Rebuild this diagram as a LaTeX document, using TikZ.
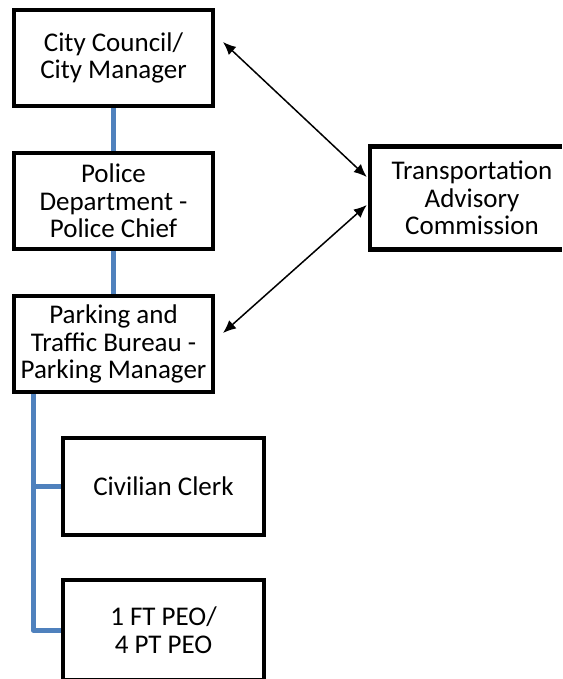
\documentclass[tikz,border=0pt]{standalone}
\usepackage{fontspec}
\setmainfont{Carlito}
\usetikzlibrary{arrows.meta}
\definecolor{orgblue}{RGB}{79,129,189}
\begin{document}
\begin{tikzpicture}[x=1pt,y=-1pt,
  box/.style={draw=black,line width=4.5pt,fill=white,minimum width=199pt,minimum height=96pt,inner sep=0pt,align=center,font=\fontsize{27}{27.5}\selectfont},
  openbox/.style={draw=black,line width=4.5pt,line join=miter},
  link/.style={draw=orgblue,line width=5pt,line join=round},
  rel/.style={draw=black,line width=1.5pt,{Latex[length=13pt,width=11pt]}-{Latex[length=13pt,width=11pt]}}]
\fill[white] (0,0) rectangle (562,679);
\useasboundingbox (0,0) rectangle (562,679);
\node[box] (council) at (113.5,58) {City Council/\\City Manager};
\node[box] (police) at (113.5,201) {Police\\Department -\\Police Chief};
\node[box] (parking) at (113.5,344) {Parking and\\Traffic Bureau -\\Parking Manager};
\node[box,draw=none,fill=none,minimum width=200pt,minimum height=98pt] (tac) at (472,198) {Transportation\\Advisory\\Commission};
\draw[openbox] (562,0 |- tac.north) -- (tac.north west) -- (tac.south west) -- (562,0 |- tac.south);
\node[box,minimum width=201pt,minimum height=100pt] (peo) at (163.5,630) {1 FT PEO/\\4 PT PEO};
\node[box,minimum width=201pt,minimum height=97pt] (clerk) at (163.5,486.5) {Civilian Clerk};
\coordinate (ccpt) at (223,42);
\coordinate (pkpt) at (223,333);
\draw[link] (council.south) -- (police.north);
\draw[link] (police.south) -- (parking.north);
\draw[link] ([xshift=-80.5pt]parking.south) |- (clerk.west);
\draw[link] ([xshift=-80.5pt]parking.south) |- (peo.west);
\draw[rel] (ccpt) -- ([yshift=21pt,xshift=-3pt]tac.west);
\draw[rel] (pkpt) -- ([yshift=-7pt,xshift=-3pt]tac.west);
\end{tikzpicture}
\end{document}
